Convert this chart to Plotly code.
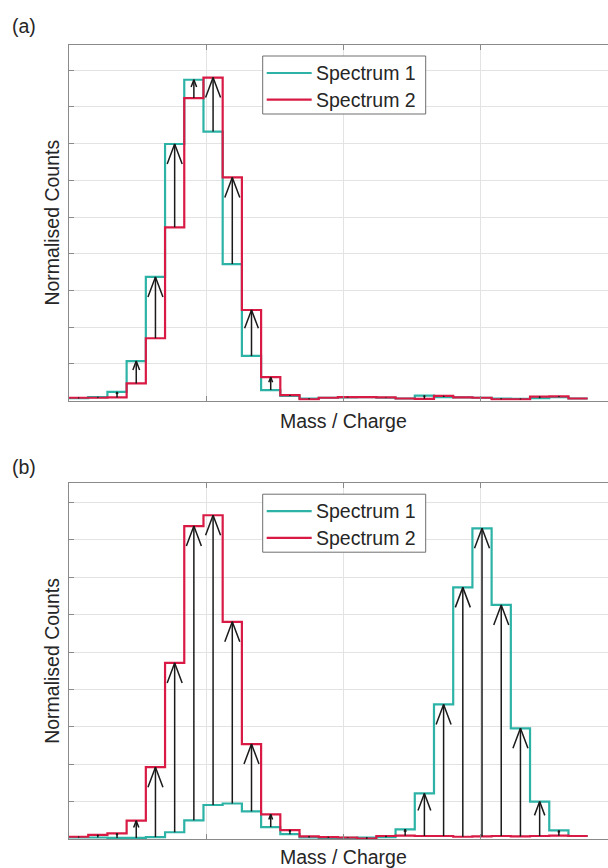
import plotly.graph_objects as go

# ---------------- data ----------------
n_bins = 27
bin_index = list(range(n_bins))

a_spectrum1 = [0.07, 0.10, 0.24, 1.08, 3.37, 6.99, 8.74, 7.33, 3.72, 1.22, 0.29, 0.13, 0.06,
               0.08, 0.09, 0.10, 0.08, 0.06, 0.14, 0.10, 0.09, 0.08, 0.06, 0.05, 0.07, 0.10, 0.06]
a_spectrum2 = [0.08, 0.08, 0.09, 0.47, 1.70, 4.72, 8.24, 8.80, 6.08, 2.47, 0.64, 0.15, 0.04,
               0.08, 0.10, 0.10, 0.09, 0.06, 0.05, 0.13, 0.09, 0.08, 0.04, 0.04, 0.11, 0.12, 0.06]

b_spectrum1 = [0.04, 0.04, 0.03, 0.03, 0.05, 0.18, 0.50, 0.91, 0.95, 0.74, 0.32, 0.13, 0.04,
               0.03, 0.03, 0.04, 0.05, 0.26, 1.22, 3.60, 6.73, 8.31, 6.26, 2.96, 1.00, 0.23, 0.08]
b_spectrum2 = [0.06, 0.11, 0.15, 0.49, 1.92, 4.71, 8.37, 8.66, 5.81, 2.54, 0.66, 0.24, 0.07,
               0.05, 0.04, 0.01, 0.08, 0.09, 0.08, 0.08, 0.06, 0.07, 0.08, 0.07, 0.08, 0.09, 0.08]

series_names = ["Spectrum 1", "Spectrum 2"]
panel_labels = ["(a)", "(b)"]
x_title = "Mass / Charge"
y_title = "Normalised Counts"

# ---------------- style / layout ----------------
W, H = 608, 868
TEAL = "#2db3a6"
RED = "#d81a45"
TXT = "#262626"
AXC = "#8a8a8a"
GRID = "#e3e3e3"
FONT = "Arial, Liberation Sans, sans-serif"
FS = 19.5

PL, PR = 69.0, 608.0          # plot area left/right (px)
BIN_PX = 19.21                # px per bin
x_range = [0, (PR - PL) / BIN_PX]
x_grid_step = 137.3 / BIN_PX

panels = [
    dict(top=44.5, bottom=400.7, ymax=9.7, s1=a_spectrum1, s2=a_spectrum2, label_y=25.5),
    dict(top=482.7, bottom=839.0, ymax=9.53, s1=b_spectrum1, s2=b_spectrum2, label_y=467.0),
]

fig = go.Figure()
shapes, annotations = [], []

def px_x(px):
    return px / W

def px_y(py):
    return 1 - py / H

for i, p in enumerate(panels):
    xa = "x" if i == 0 else "x2"
    ya = "y" if i == 0 else "y2"
    xs = bin_index + [n_bins]
    # step lines
    for vals, col, name in [(p["s1"], TEAL, series_names[0]), (p["s2"], RED, series_names[1])]:
        fig.add_trace(go.Scatter(x=xs, y=list(vals) + [vals[-1]], mode="lines",
                                 line=dict(color=col, width=2.2, shape="hv"),
                                 name=name, showlegend=False, xaxis=xa, yaxis=ya,
                                 hoverinfo="skip"))
    # arrows from lower to higher value at each bin centre
    ppx = (PR - PL) / (x_range[1] - x_range[0])
    ppy = (p["bottom"] - p["top"]) / p["ymax"]
    ax, ay = [], []
    for k in bin_index:
        v1, v2 = p["s1"][k], p["s2"][k]
        lo, hi = min(v1, v2), max(v1, v2)
        c = k + 0.5
        L = (hi - lo) * ppy
        h = min(20.0, 0.4 * L)
        hw = 0.375 * h
        dx, dy = hw / ppx, h / ppy
        ax += [c, c, None, c - dx, c, c + dx, None]
        ay += [lo, hi, None, hi - dy, hi, hi - dy, None]
    fig.add_trace(go.Scatter(x=ax, y=ay, mode="lines", line=dict(color="#1a1a1a", width=1.5),
                             showlegend=False, xaxis=xa, yaxis=ya, hoverinfo="skip"))

    dom_y = [1 - p["bottom"] / H, 1 - p["top"] / H]
    axis_common = dict(showticklabels=False, ticks="inside", ticklen=5, tickcolor=AXC,
                       showline=True, linecolor=AXC, linewidth=1, zeroline=False,
                       showgrid=True, gridcolor=GRID, gridwidth=1)
    xkey = "xaxis" if i == 0 else "xaxis2"
    ykey = "yaxis" if i == 0 else "yaxis2"
    fig.layout[xkey] = dict(domain=[PL / W, 1], range=x_range, tick0=0, dtick=x_grid_step,
                            mirror="ticks", anchor=ya, **axis_common)
    fig.layout[ykey] = dict(domain=dom_y, range=[0, p["ymax"]], tick0=0, dtick=1,
                            mirror=False, anchor=xa, **axis_common)

    # panel label
    annotations.append(dict(x=px_x(10), y=px_y(p["label_y"]), xref="paper", yref="paper",
                            text=panel_labels[i], showarrow=False, xanchor="left",
                            yanchor="middle", font=dict(size=FS, color=TXT, family=FONT)))
    # axis titles
    annotations.append(dict(x=px_x((PL + 617) / 2), y=px_y(min(p["bottom"] + 20.5, 856.5)),
                            xref="paper", yref="paper", text=x_title, showarrow=False,
                            xanchor="center", yanchor="middle",
                            font=dict(size=FS, color=TXT, family=FONT)))
    annotations.append(dict(x=px_x(52), y=px_y((p["top"] + p["bottom"]) / 2), xref="paper",
                            yref="paper", text=y_title, showarrow=False, textangle=-90,
                            xanchor="center", yanchor="middle",
                            font=dict(size=FS, color=TXT, family=FONT)))
    # legend (box, line samples, labels)
    bt, bb = p["top"] + 11.5, p["top"] + 69.5
    shapes.append(dict(type="rect", xref="paper", yref="paper", x0=px_x(262.7), x1=px_x(425.7),
                       y0=px_y(bb), y1=px_y(bt), line=dict(color="#6e6e6e", width=1),
                       fillcolor="white", layer="above"))
    for j, (col, name) in enumerate([(TEAL, series_names[0]), (RED, series_names[1])]):
        ry = p["top"] + 28.5 + j * 26.7
        shapes.append(dict(type="line", xref="paper", yref="paper", x0=px_x(266.7),
                           x1=px_x(311.7), y0=px_y(ry), y1=px_y(ry),
                           line=dict(color=col, width=2.2), layer="above"))
        annotations.append(dict(x=px_x(313.5), y=px_y(ry), xref="paper", yref="paper",
                                text=name, showarrow=False, xanchor="left", yanchor="middle",
                                font=dict(size=FS, color=TXT, family=FONT)))

fig.update_layout(width=W, height=H, autosize=False,
                  margin=dict(l=0, r=0, t=0, b=0, pad=0),
                  paper_bgcolor="white", plot_bgcolor="white",
                  shapes=shapes, annotations=annotations, showlegend=False)

fig.write_html("out.html", config={"displayModeBar": False},
               post_script="document.body.style.margin='0';document.body.style.overflow='hidden';")
